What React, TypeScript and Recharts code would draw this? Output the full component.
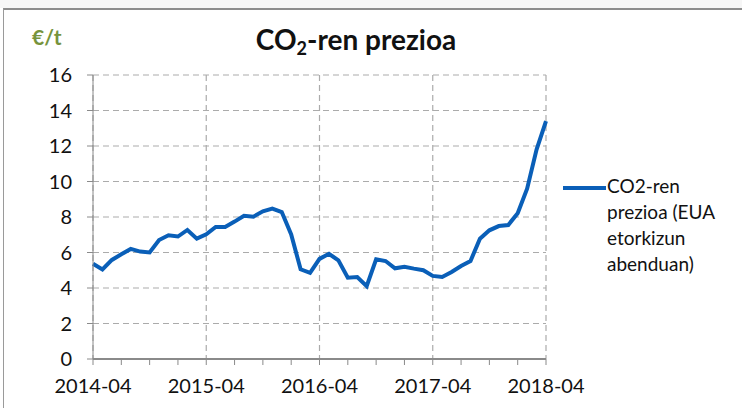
import React from "react";
import { LineChart, Line, XAxis, YAxis, CartesianGrid } from "recharts";

const months = [
  "2014-04","2014-05","2014-06","2014-07","2014-08","2014-09","2014-10","2014-11","2014-12","2015-01","2015-02","2015-03",
  "2015-04","2015-05","2015-06","2015-07","2015-08","2015-09","2015-10","2015-11","2015-12","2016-01","2016-02","2016-03",
  "2016-04","2016-05","2016-06","2016-07","2016-08","2016-09","2016-10","2016-11","2016-12","2017-01","2017-02","2017-03",
  "2017-04","2017-05","2017-06","2017-07","2017-08","2017-09","2017-10","2017-11","2017-12","2018-01","2018-02","2018-03",
  "2018-04",
];

const prices = [
  5.37, 5.05, 5.58, 5.9, 6.2, 6.05, 6.0, 6.7, 6.97, 6.9, 7.27, 6.78,
  7.02, 7.44, 7.44, 7.74, 8.07, 8.02, 8.32, 8.47, 8.28, 7.02, 5.05, 4.85,
  5.64, 5.93, 5.56, 4.58, 4.62, 4.1, 5.62, 5.52, 5.11, 5.2, 5.09, 5.0,
  4.68, 4.62, 4.9, 5.24, 5.52, 6.78, 7.25, 7.49, 7.55, 8.21, 9.6, 11.8,
  13.4,
];

const yTicks = [0, 2, 4, 6, 8, 10, 12, 14, 16];
const xTicks = [0, 3, 6, 9, 12, 15, 18, 21, 24, 27, 30, 33, 36, 39, 42, 45, 48];
const yearTicks = [0, 12, 24, 36, 48];

const seriesName = "CO2-ren prezioa (EUA etorkizun abenduan)";

const data = months.map((m, i) => ({ idx: i, month: m, price: prices[i] }));

const FONT = "Lato, 'Open Sans', sans-serif";

export default function App() {
  return (
    <div style={{ position: "absolute", left: 0, top: 0, width: 742, height: 408, background: "#f6f6f6", overflow: "hidden", fontFamily: FONT }}>
      <div style={{ position: "absolute", left: 0, top: 8, width: 742, height: 400, background: "#ffffff" }} />
      <div style={{ position: "absolute", left: 3, top: 8, width: 760, height: 420, borderTop: "2px solid #8c8c8c", borderLeft: "1.5px solid #9a9a9a", boxSizing: "border-box" }} />
      <div style={{ position: "absolute", left: 0, top: 0 }}>
        <LineChart width={742} height={408} data={data} margin={{ top: 75, right: 196, bottom: 14, left: 0 }}>
          <CartesianGrid stroke="#ababab" strokeDasharray="6 4" strokeWidth={1.2} verticalValues={yearTicks} horizontalValues={yTicks} />
          <XAxis
            dataKey="idx"
            type="number"
            domain={[0, 48]}
            ticks={xTicks}
            interval={0}
            height={35}
            tickSize={6}
            tickMargin={14}
            axisLine={{ stroke: "#8a8a8a", strokeWidth: 2 }}
            tickLine={{ stroke: "#8a8a8a" }}
            tick={{ fill: "#111", fontSize: 20, fontFamily: FONT }}
            tickFormatter={(v: number) => (v % 12 === 0 ? months[v] : "")}
          />
          <YAxis
            type="number"
            domain={[0, 16]}
            ticks={yTicks}
            interval={0}
            width={93}
            tickSize={6}
            tickMargin={15}
            axisLine={{ stroke: "#8a8a8a" }}
            tickLine={{ stroke: "#8a8a8a" }}
            tick={{ fill: "#111", fontSize: 20, fontFamily: FONT }}
          />
          <Line
            type="linear"
            dataKey="price"
            name={seriesName}
            stroke="#0a5fb8"
            strokeWidth={4}
            dot={false}
            isAnimationActive={false}
          />
        </LineChart>
      </div>
      <div style={{ position: "absolute", left: 32, top: 24, color: "#76933c", fontSize: 21, fontWeight: 700 }}>€/t</div>
      <div style={{ position: "absolute", left: 156, width: 400, top: 22, textAlign: "center", fontSize: 28, fontWeight: 700, color: "#111", whiteSpace: "nowrap" }}>
        CO<sub style={{ fontSize: 18, verticalAlign: "-5px" }}>2</sub>-ren prezioa
      </div>
      <div style={{ position: "absolute", left: 563, top: 173, display: "flex", alignItems: "flex-start" }}>
        <div style={{ width: 43, height: 4, background: "#0a5fb8", marginTop: 13 }} />
        <div style={{ marginLeft: 1, fontSize: 19, lineHeight: "26px", color: "#111", whiteSpace: "nowrap" }}>
          CO2-ren<br />prezioa (EUA<br />etorkizun<br />abenduan)
        </div>
      </div>
    </div>
  );
}
